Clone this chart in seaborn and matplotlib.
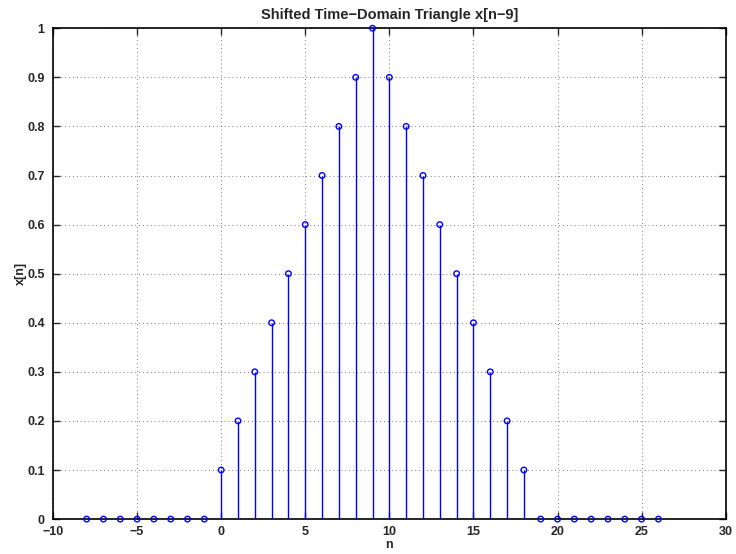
import matplotlib
matplotlib.use("Agg")
import matplotlib.pyplot as plt
import pandas as pd
import seaborn as sns

N_VALUES = list(range(-8, 27))
X_VALUES = [0.0] * 8 + [0.1, 0.2, 0.3, 0.4, 0.5, 0.6, 0.7, 0.8, 0.9, 1.0,
                        0.9, 0.8, 0.7, 0.6, 0.5, 0.4, 0.3, 0.2, 0.1] + [0.0] * 8
X_TICKS = list(range(-10, 31, 5))
Y_TICKS = [round(i * 0.1, 1) for i in range(11)]

STEM_BLUE = "#0000ff"


def main() -> None:
    sns.set_theme(style="white")
    plt.rcParams["font.family"] = ["Liberation Sans", "DejaVu Sans"]
    plt.rcParams["font.weight"] = "bold"

    df = pd.DataFrame({"n": N_VALUES, "x": X_VALUES})

    fig = plt.figure(figsize=(7.36, 5.54), dpi=100)
    ax = fig.add_axes([0.072, 0.063, 0.914, 0.886])

    ax.vlines(df["n"], 0, df["x"], colors=STEM_BLUE, linewidth=1.0, zorder=3)
    sns.scatterplot(
        data=df, x="n", y="x", ax=ax, marker="o", s=16,
        facecolors="none", edgecolor=STEM_BLUE, linewidth=1.0, zorder=4,
        clip_on=False,
    )

    ax.set_xlim(-10, 30)
    ax.set_ylim(0, 1)
    ax.set_xticks(X_TICKS)
    ax.set_yticks(Y_TICKS)
    ax.set_xticklabels([f"{t}".replace("-", "\u2212") for t in X_TICKS], fontsize=9, fontweight="bold")
    ax.set_yticklabels([f"{t:g}" for t in Y_TICKS], fontsize=9, fontweight="bold")

    ax.grid(True, linestyle=(0, (1, 3)), color="#777777", linewidth=0.7)
    ax.set_axisbelow(True)
    ax.tick_params(axis="both", direction="in", top=True, right=True, length=5, width=1,
                   bottom=True, left=True)
    ax.tick_params(axis="x", pad=5)
    ax.tick_params(axis="y", pad=6)
    for spine in ax.spines.values():
        spine.set_color("black")
        spine.set_linewidth(1.2)

    ax.set_xlabel("n", fontsize=9, fontweight="bold", labelpad=1)
    ax.set_ylabel("x[n]", fontsize=9, fontweight="bold", labelpad=0)
    ax.set_title("Shifted Time\u2212Domain Triangle x[n\u22129]", fontsize=10.5, fontweight="bold", pad=7)

    fig.savefig("out.png", dpi=100)
    plt.close(fig)


if __name__ == "__main__":
    main()
